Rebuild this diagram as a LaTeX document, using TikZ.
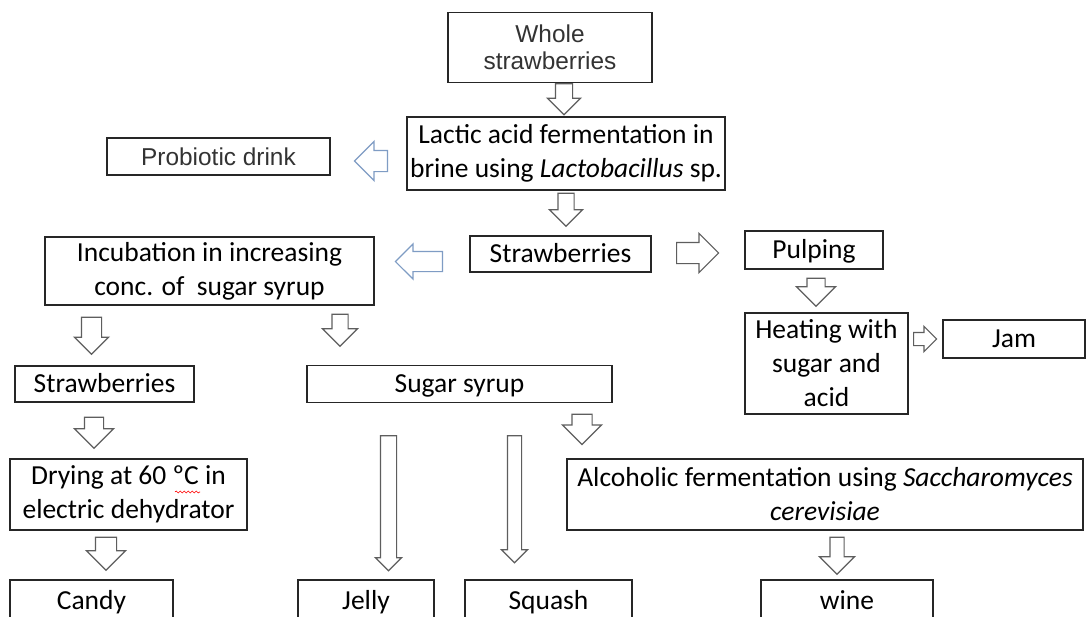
\documentclass[tikz,border=0pt]{standalone}
\usepackage{fontspec}
\usepackage{tikz}
\usepackage{xcolor}
\usetikzlibrary{shapes.arrows,decorations.pathmorphing}
\setmainfont{Carlito}
\newfontfamily\arialfont{Liberation Sans}
\definecolor{boxline}{HTML}{262626}
\definecolor{arrowgray}{HTML}{5E5E5E}
\definecolor{arrowblue}{HTML}{7F9CC4}

\begin{document}
\begin{tikzpicture}[x=1pt,y=-1pt,
    box/.style={draw=boxline,line width=1.3pt,fill=white,inner sep=0pt,align=center,font=\fontsize{27.5}{34}\selectfont},
    onebox/.style={box,text height=22pt,text depth=5pt},
    sansbox/.style={box,font=\arialfont\fontsize{24.4}{27}\selectfont,text=black!80},
    blockarrow/.style={single arrow,draw=arrowgray,fill=white,line width=1.2pt,
        single arrow head indent=0pt,single arrow tip angle=90},
    arrowsize/.style 2 args={inner sep=#1,single arrow head extend=#2},
    downarrow/.style={blockarrow,shape border rotate=270,anchor=tail},
    rightarrow/.style={blockarrow,shape border rotate=0,anchor=tail},
    leftarrow/.style={blockarrow,draw=arrowblue,shape border rotate=180,anchor=tail}]

    % Page area
    \useasboundingbox (0,0) rectangle (1086,616);
    \fill[white] (0,0) rectangle (1086,616);

    % Draw the boxes
    \node[sansbox,minimum width=204pt,minimum height=70pt] (whole) at (550,47.5) {Whole\\strawberries};
    \node[box,minimum width=318pt,minimum height=73pt] (lactic) at (566,153.5) {Lactic acid fermentation in\\brine using \textit{Lactobacillus} sp.};
    \node[sansbox,minimum width=223pt,minimum height=37pt] (probiotic) at (218.5,156.5) {Probiotic drink};
    \node[onebox,minimum width=181pt,minimum height=36pt] (straw) at (560.5,254) {Strawberries};
    \node[box,minimum width=329pt,minimum height=68pt] (incub) at (209.5,271) {Incubation in increasing\\conc. of \ sugar syrup};
    \node[onebox,minimum width=138pt,minimum height=38pt] (pulping) at (814,250) {Pulping};
    \node[box,minimum width=163pt,minimum height=101pt] (heating) at (826.5,363.5) {Heating with\\sugar and\\acid};
    \node[onebox,minimum width=142pt,minimum height=38pt] (jam) at (1014,339) {Jam};
    \node[onebox,minimum width=179pt,minimum height=36pt] (lstraw) at (104.5,384) {Strawberries};
    \node[onebox,minimum width=305pt,minimum height=37pt] (syrup) at (459.5,384) {Sugar syrup};
    \node[box,minimum width=237pt,minimum height=71pt] (drying) at (128.5,494.5) {Drying at 60 ºC in\\electric dehydrator};
    \node[box,minimum width=516pt,minimum height=71pt] (alcohol) at (825,494.5) {Alcoholic fermentation using \textit{Saccharomyces}\\\textit{cerevisiae}};
    \node[onebox,minimum width=163pt,minimum height=42pt] (candy) at (91.5,601) {Candy};
    \node[onebox,minimum width=136pt,minimum height=42pt] (jelly) at (366,601) {Jelly};
    \node[onebox,minimum width=167pt,minimum height=42pt] (squash) at (548.5,601) {Squash};
    \node[onebox,minimum width=172pt,minimum height=42pt] (wine) at (847,601) {wine};

    % Spell check mark
    \draw[red,line width=0.6pt,decorate,decoration={snake,amplitude=1pt,segment length=4pt}] (175,492) -- (200,492);

    % Draw the block arrows
    \node[downarrow,arrowsize={8pt}{8pt},minimum height=31pt] (a1) at (564,0 |- whole.south) {};
    \node[downarrow,arrowsize={7.5pt}{8.5pt},minimum height=33pt,yshift=-2pt] (a2) at (566,0 |- lactic.south) {};
    \node[leftarrow,arrowsize={10pt}{9pt},minimum height=33pt] (a3) at (388,161) {};
    \node[leftarrow,arrowsize={9.5pt}{7.5pt},minimum height=47pt] (a4) at (443,261.5) {};
    \node[rightarrow,arrowsize={10pt}{9pt},minimum height=42pt] (a5) at (676,253) {};
    \node[downarrow,arrowsize={8.5pt}{10.5pt},minimum height=28pt,yshift=-8pt] (a6) at (816,0 |- pulping.south) {};
    \node[rightarrow,arrowsize={6pt}{6pt},minimum height=23pt] (a7) at (913,0 |- jam.west) {};
    \node[downarrow,arrowsize={9.5pt}{7pt},minimum height=37pt,yshift=-11pt] (a8) at (91.5,0 |- incub.south) {};
    \node[downarrow,arrowsize={7.5pt}{9.5pt},minimum height=32pt,yshift=-8pt] (a9) at (340,0 |- incub.south) {};
    \node[downarrow,arrowsize={9pt}{10pt},minimum height=31pt,yshift=-14pt] (a10) at (94,0 |- lstraw.south) {};
    \node[downarrow,arrowsize={9.5pt}{9.5pt},minimum height=30pt,yshift=-10.5pt] (a11) at (582,0 |- syrup.south) {};
    \node[downarrow,arrowsize={10pt}{9pt},minimum height=33pt,yshift=-6pt] (a12) at (106,0 |- drying.south) {};
    \node[downarrow,arrowsize={7.5pt}{5pt},minimum height=135pt,yshift=-32pt] (a13) at (388.5,0 |- syrup.south) {};
    \node[downarrow,arrowsize={6.5pt}{6pt},minimum height=127pt,yshift=-32pt] (a14) at (514.5,0 |- syrup.south) {};
    \node[downarrow,arrowsize={6.5pt}{10.5pt},minimum height=37pt,yshift=-6pt] (a15) at (837,0 |- alcohol.south) {};
\end{tikzpicture}
\end{document}
